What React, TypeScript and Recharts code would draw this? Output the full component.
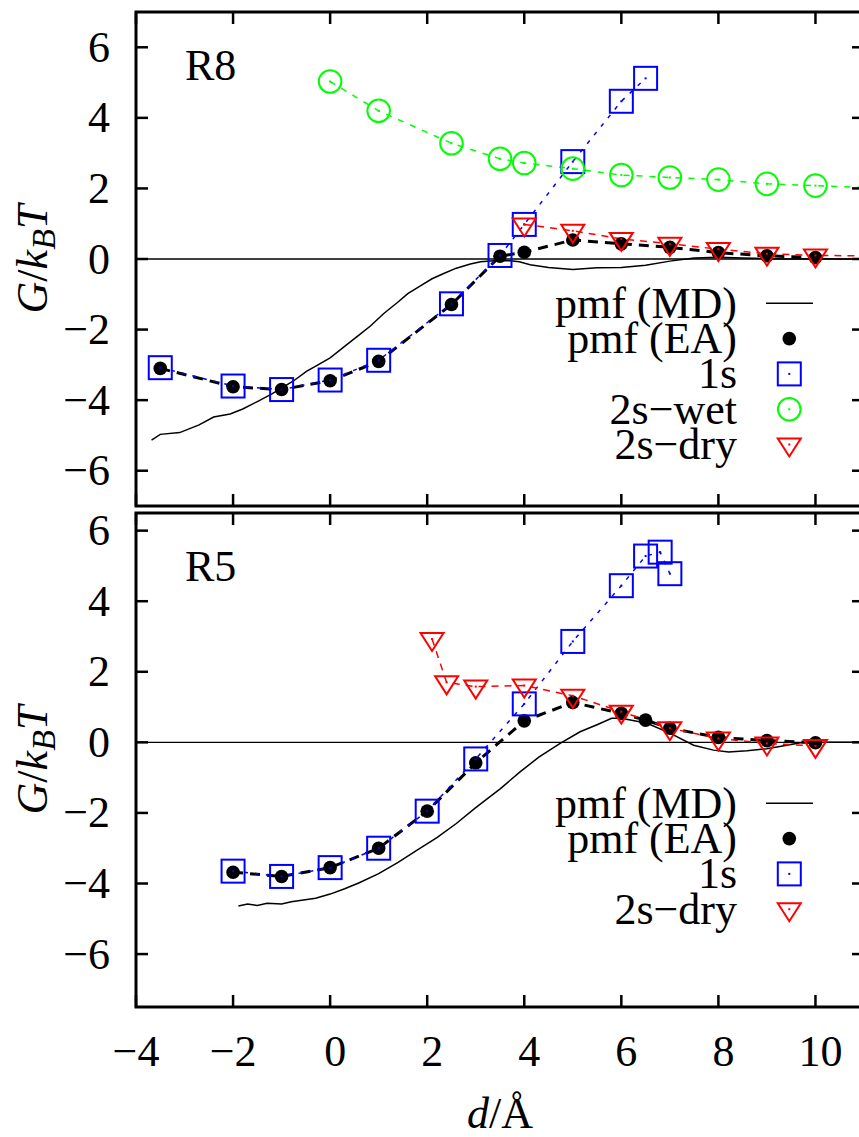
import React from 'react';
import { ComposedChart, Line, XAxis, YAxis, ReferenceLine, ReferenceArea, Legend } from 'recharts';

// ---------- data: panel R8 ----------
const md8X = [-3.68, -3.5, -3.1, -2.7, -2.4, -2.06, -1.8, -1.5, -1.2, -1.0, -0.75, -0.48, -0.25, 0, 0.35, 0.6, 0.83, 1.1, 1.38, 1.6, 1.86, 2.1, 2.34, 2.6, 2.89, 3.1, 3.37, 3.71, 3.9, 4.12, 4.5, 5.0, 5.5, 6.0, 6.5, 7.0, 7.5, 8.0, 8.5, 9.0, 9.5, 10, 10.5, 11];
const md8Y = [-5.13, -4.97, -4.92, -4.7, -4.48, -4.39, -4.25, -4.04, -3.82, -3.66, -3.45, -3.18, -3.0, -2.8, -2.42, -2.15, -1.9, -1.55, -1.24, -0.98, -0.76, -0.56, -0.41, -0.26, -0.14, -0.08, -0.05, -0.05, -0.08, -0.16, -0.24, -0.3, -0.25, -0.24, -0.18, -0.06, 0.03, 0.05, 0.03, 0.01, 0.0, 0.01, 0.0, 0.0];
const ea8X = [-3.5, -2, -1, 0, 1, 2.5, 3.5, 4, 5, 6, 7, 8, 9, 10];
const ea8Y = [-3.1, -3.62, -3.7, -3.45, -2.9, -1.29, 0.08, 0.19, 0.54, 0.43, 0.33, 0.18, 0.09, 0.04];
const s1_8X = [-3.5, -2, -1, 0, 1, 2.5, 3.5, 4, 5, 6, 6.5];
const s1_8Y = [-3.08, -3.6, -3.7, -3.43, -2.87, -1.27, 0.1, 0.98, 2.76, 4.47, 5.12];
const wet8X = [0, 1, 2.5, 3.5, 4, 5, 6, 7, 8, 9, 10, 12];
const wet8Y = [5.03, 4.2, 3.28, 2.84, 2.72, 2.56, 2.38, 2.31, 2.25, 2.13, 2.08, 1.97];
const dry8X = [4, 5, 6, 7, 8, 9, 10, 12];
const dry8Y = [0.98, 0.8, 0.57, 0.43, 0.28, 0.15, 0.1, 0.08];

// ---------- data: panel R5 ----------
const md5X = [-1.89, -1.7, -1.5, -1.3, -1.0, -0.8, -0.62, -0.3, 0, 0.3, 0.6, 1.0, 1.4, 1.8, 2.2, 2.6, 3.0, 3.51, 3.9, 4.3, 4.74, 5.15, 5.5, 5.8, 6.0, 6.53, 7.0, 7.49, 7.9, 8.21, 8.59, 9.0, 9.41, 9.69, 10.2, 11];
const md5Y = [-4.64, -4.58, -4.62, -4.56, -4.58, -4.52, -4.48, -4.42, -4.3, -4.15, -3.98, -3.72, -3.4, -3.05, -2.7, -2.3, -1.85, -1.31, -0.85, -0.42, -0.03, 0.3, 0.5, 0.68, 0.68, 0.54, 0.26, -0.08, -0.22, -0.27, -0.24, -0.18, -0.08, -0.01, 0.0, 0.0];
const ea5X = [-2, -1, 0, 1, 2, 3, 4, 5, 6, 6.5, 7, 8, 9, 10];
const ea5Y = [-3.68, -3.8, -3.55, -3.0, -1.95, -0.58, 0.61, 1.13, 0.82, 0.63, 0.4, 0.14, 0.05, -0.01];
const s1_5X = [-2, -1, 0, 1, 2, 3, 4, 5, 6, 6.5, 6.8, 7.0];
const s1_5Y = [-3.65, -3.8, -3.55, -3.0, -1.95, -0.47, 1.09, 2.86, 4.44, 5.28, 5.39, 4.78];
const dry5X = [2.1, 2.4, 3, 4, 5, 6, 7, 8, 9, 10];
const dry5Y = [2.93, 1.7, 1.58, 1.61, 1.32, 0.87, 0.4, 0.11, -0.03, -0.1];

// ---------- axes ----------
const xTicks = [-4, -2, 0, 2, 4, 6, 8, 10];
const yTicks = [-6, -4, -2, 0, 2, 4, 6];
const xDomain: [number, number] = [-4, 11];
const yDomainTop: [number, number] = [-7, 7];
const yDomainBottom: [number, number] = [-7.5, 6.5];

const legendTop = ['pmf (MD)', 'pmf (EA)', '1s', '2s\u2212wet', '2s\u2212dry'];
const legendBottom = ['pmf (MD)', 'pmf (EA)', '1s', '2s\u2212dry'];

const zip = (xs: number[], ys: number[]) => xs.map((x, i) => ({ x, y: ys[i] }));

// ---------- style ----------
const FONT = 'Liberation Serif, DejaVu Serif, Times New Roman, serif';
const FS = 44;
const BLUE = '#0000ff';
const GREEN = '#00ff00';
const RED = '#ff0000';
const CHART_W = 880;
const PLOT_LEFT = 136;
const MARGIN_R = 16;
const PLOT_RIGHT = CHART_W - MARGIN_R;
const TICK = 12;
const txtStyle: React.CSSProperties = { fontFamily: FONT, fontSize: FS };

const fmt = (v: number) => (v < 0 ? '\u2212' + Math.abs(v) : String(v));

const drawMarker = (kind: string, cx: number, cy: number, key?: any) => {
  if (kind === 'ea') return <circle key={key} cx={cx} cy={cy} r={6.8} fill="#000" />;
  if (kind === 's1')
    return (
      <g key={key}>
        <rect x={cx - 11.5} y={cy - 11.5} width={23} height={23} fill="none" stroke={BLUE} strokeWidth={2} />
        <rect x={cx - 1} y={cy - 1} width={2} height={2} fill={BLUE} />
      </g>
    );
  if (kind === 'wet')
    return (
      <g key={key}>
        <circle cx={cx} cy={cy} r={11.3} fill="none" stroke={GREEN} strokeWidth={2} />
        <rect x={cx - 1} y={cy - 1} width={2} height={2} fill={GREEN} />
      </g>
    );
  if (kind === 'dry')
    return (
      <g key={key}>
        <polygon points={`${cx - 11.5},${cy - 6} ${cx + 11.5},${cy - 6} ${cx},${cy + 12}`} fill="none" stroke={RED} strokeWidth={2} />
        <rect x={cx - 1} y={cy - 1} width={2} height={2} fill={RED} />
      </g>
    );
  return null;
};

const dotFn = (kind: string) => (p: any) => drawMarker(kind, p.cx, p.cy, `${kind}-${p.index}`);

const makeYTick = () => (props: any) => {
  const { y, payload } = props;
  return (
    <g>
      <line x1={PLOT_LEFT} x2={PLOT_LEFT + TICK} y1={y} y2={y} stroke="#000" strokeWidth={2.5} />
      <line x1={PLOT_RIGHT - TICK} x2={PLOT_RIGHT} y1={y} y2={y} stroke="#000" strokeWidth={2.5} />
      <text x={PLOT_LEFT - 26} y={y} textAnchor="end" dominantBaseline="central" style={txtStyle} fill="#000">
        {fmt(payload.value)}
      </text>
    </g>
  );
};

const makeXTick = (top: number, bottom: number, labels: boolean) => (props: any) => {
  const { x, payload } = props;
  const v = payload.value;
  return (
    <g>
      <line x1={x} x2={x} y1={bottom} y2={bottom - TICK} stroke="#000" strokeWidth={2.5} />
      <line x1={x} x2={x} y1={top} y2={top + TICK} stroke="#000" strokeWidth={2.5} />
      {labels && (
        <text x={x + (v >= 0 ? 5 : 0)} y={bottom + 44} textAnchor="middle" dominantBaseline="central" style={txtStyle} fill="#000">
          {fmt(v)}
        </text>
      )}
    </g>
  );
};

const yLabel = (props: any) => {
  const vb = props.viewBox || {};
  const cy = vb.y + vb.height / 2;
  const x = 47;
  return (
    <text x={x} y={cy} transform={`rotate(-90, ${x}, ${cy})`} textAnchor="middle" style={{ ...txtStyle, fontStyle: 'italic' }} fill="#000">
      <tspan>G</tspan>
      <tspan style={{ fontStyle: 'normal' }}>/</tspan>
      <tspan>k</tspan>
      <tspan style={{ fontSize: 34 }} dy={8}>B</tspan>
      <tspan dy={-8}>T</tspan>
    </text>
  );
};

const xLabel = (props: any) => {
  const vb = props.viewBox || {};
  const cx = vb.x + vb.width / 2;
  return (
    <text x={cx} y={vb.y + 121} textAnchor="middle" style={txtStyle} fill="#000">
      <tspan style={{ fontStyle: 'italic' }}>d</tspan>
      <tspan>/Å</tspan>
    </text>
  );
};

const panelLabel = (text: string) => (props: any) => {
  const vb = props.viewBox || {};
  return (
    <text x={vb.x + 49} y={vb.y + 68} style={txtStyle} fill="#000">
      {text}
    </text>
  );
};

const kinds = ['md', 'ea', 's1', 'wet', 'dry'];

const legendContent = (labels: string[], kindsList: string[]) => () => (
  <svg width={470} height={200} style={{ overflow: 'visible', display: 'block' }}>
    {labels.map((lab, i) => {
      const cy = 23.3 + 35.3 * i;
      const k = kindsList[i];
      return (
        <g key={lab}>
          <text x={357} y={cy} textAnchor="end" dominantBaseline="central" style={txtStyle} fill="#000">
            {lab}
          </text>
          {k === 'md' ? <line x1={386} x2={433} y1={cy} y2={cy} stroke="#000" strokeWidth={1.5} /> : drawMarker(k, 409.3, cy)}
        </g>
      );
    })}
  </svg>
);

const Panel = (props: {
  height: number;
  top: number;
  bottom: number;
  yDomain: [number, number];
  label: string;
  showX: boolean;
  md: { x: number; y: number }[];
  ea: { x: number; y: number }[];
  s1: { x: number; y: number }[];
  wet?: { x: number; y: number }[];
  dry: { x: number; y: number }[];
  legendLabels: string[];
  legendKinds: string[];
}) => {
  const { height, top, bottom, yDomain, label, showX, md, ea, s1, wet, dry } = props;
  const plotTop = top;
  const plotBottom = height - bottom;
  return (
    <ComposedChart width={CHART_W} height={height} margin={{ top, bottom: 0, left: 0, right: MARGIN_R }} style={{ fontFamily: FONT }}>
      <XAxis
        type="number"
        dataKey="x"
        domain={xDomain}
        allowDataOverflow
        ticks={xTicks}
        interval={0}
        height={bottom}
        axisLine={false}
        tickLine={false}
        tick={makeXTick(plotTop, plotBottom, showX)}
        label={showX ? { content: xLabel } : undefined}
      />
      <YAxis
        type="number"
        dataKey="y"
        domain={yDomain}
        allowDataOverflow
        ticks={yTicks}
        interval={0}
        width={PLOT_LEFT}
        axisLine={false}
        tickLine={false}
        tick={makeYTick()}
        label={{ content: yLabel }}
      />
      <ReferenceLine y={0} stroke="#000" strokeWidth={1.3} />
      <Line data={md} dataKey="y" type="linear" stroke="#000" strokeWidth={1.5} dot={false} activeDot={false} isAnimationActive={false} />
      <Line data={ea} dataKey="y" type="linear" stroke="#000" strokeWidth={3} strokeDasharray="10 7" dot={dotFn('ea')} activeDot={false} isAnimationActive={false} />
      <Line data={s1} dataKey="y" type="linear" stroke={BLUE} strokeWidth={1.5} strokeDasharray="4 7" dot={dotFn('s1')} activeDot={false} isAnimationActive={false} />
      {wet && (
        <Line data={wet} dataKey="y" type="linear" stroke={GREEN} strokeWidth={1.5} strokeDasharray="6 7" dot={dotFn('wet')} activeDot={false} isAnimationActive={false} />
      )}
      <Line data={dry} dataKey="y" type="linear" stroke={RED} strokeWidth={1.5} strokeDasharray="7 6" dot={dotFn('dry')} activeDot={false} isAnimationActive={false} />
      <ReferenceArea
        x1={xDomain[0]}
        x2={xDomain[1]}
        y1={yDomain[0]}
        y2={yDomain[1]}
        fill="none"
        fillOpacity={0}
        stroke="#000"
        strokeWidth={3}
        label={panelLabel(label)}
      />
      <Legend
        layout="horizontal"
        verticalAlign="middle"
        align="center"
        content={legendContent(props.legendLabels, props.legendKinds)}
        wrapperStyle={{ left: 380, top: 280, width: 470, height: 200 }}
      />
    </ComposedChart>
  );
};

export default function App() {
  return (
    <div style={{ position: 'absolute', left: 0, top: 0, width: 859, height: 1137, overflow: 'hidden', background: '#fff', fontFamily: FONT }}>
      <div style={{ position: 'absolute', left: 0, top: 0 }}>
        <Panel
          height={515}
          top={12}
          bottom={9}
          yDomain={yDomainTop}
          label="R8"
          showX={false}
          md={zip(md8X, md8Y)}
          ea={zip(ea8X, ea8Y)}
          s1={zip(s1_8X, s1_8Y)}
          wet={zip(wet8X, wet8Y)}
          dry={zip(dry8X, dry8Y)}
          legendLabels={legendTop}
          legendKinds={kinds}
        />
      </div>
      <div style={{ position: 'absolute', left: 0, top: 500 }}>
        <Panel
          height={637}
          top={13}
          bottom={130}
          yDomain={yDomainBottom}
          label="R5"
          showX={true}
          md={zip(md5X, md5Y)}
          ea={zip(ea5X, ea5Y)}
          s1={zip(s1_5X, s1_5Y)}
          dry={zip(dry5X, dry5Y)}
          legendLabels={legendBottom}
          legendKinds={['md', 'ea', 's1', 'dry']}
        />
      </div>
    </div>
  );
}
